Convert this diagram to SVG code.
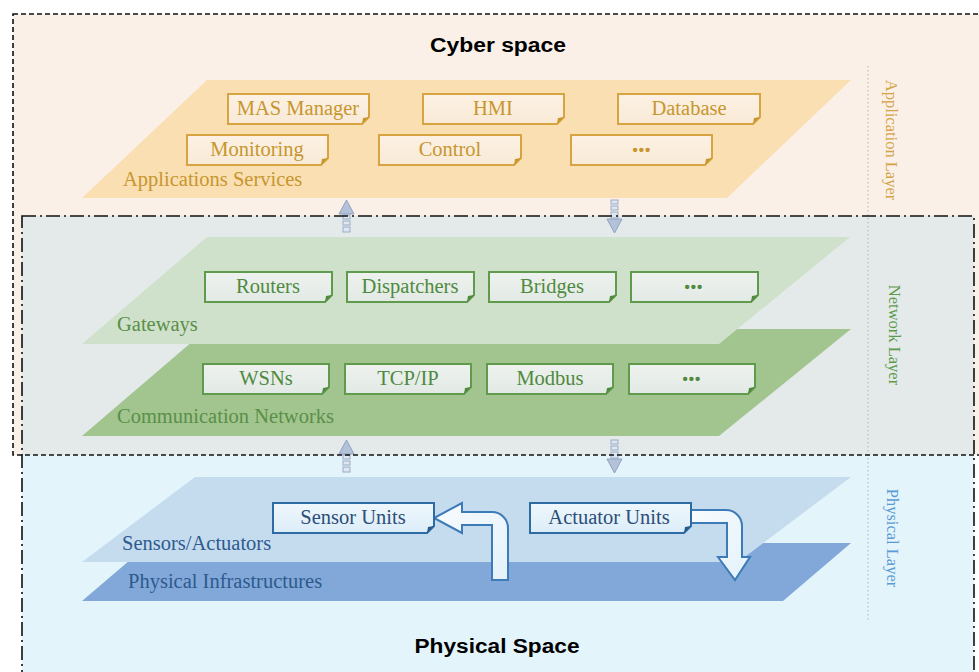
<svg xmlns="http://www.w3.org/2000/svg" width="979" height="672" viewBox="0 0 979 672">
  <defs>
    <style>
      .title { font-family: "Liberation Sans", Arial, sans-serif; font-weight: bold; font-size: 20px; fill: #000; text-anchor: middle; }
      .lbl { font-family: "Liberation Serif", "Times New Roman", serif; font-size: 20.5px; }
      .boxtxt { font-family: "Liberation Serif", "Times New Roman", serif; font-size: 20.5px; text-anchor: middle; }
      .dots { font-family: "Liberation Sans", Arial, sans-serif; font-size: 15px; font-weight: bold; text-anchor: middle; letter-spacing: 1px; }
      .side { font-family: "Liberation Serif", "Times New Roman", serif; font-size: 16.5px; text-anchor: middle; }
      .app polygon.b { fill: url(#gApp); stroke: #d6a440; stroke-width: 2; }
      .app .fold { fill: #c9962e; }
      .app text { fill: #c8962e; }
      .net polygon.b { fill: url(#gNet); stroke: #5f9a4d; stroke-width: 2; }
      .net .fold { fill: #4f8a3e; }
      .net text { fill: #4f8a3e; }
      .phy polygon.b { fill: url(#gPhy); stroke: #2f6ba3; stroke-width: 2; }
      .phy .fold { fill: #2a5a8c; }
      .phy text { fill: #2c4e78; }
      .flow { fill: url(#gArrow); stroke: #3d7ab8; stroke-width: 2; stroke-linejoin: miter; }
      .vhead { fill: #b3c2d8; stroke: #8fa3c1; stroke-width: 1; }
      .vstem { fill: #dfe6f0; stroke: #9aabc6; stroke-width: 1; }
    </style>
    <linearGradient id="gApp" x1="0" y1="0" x2="0" y2="1">
      <stop offset="0" stop-color="#fcf1e4"/>
      <stop offset="1" stop-color="#f9ead6"/>
    </linearGradient>
    <linearGradient id="gNet" x1="0" y1="0" x2="0" y2="1">
      <stop offset="0" stop-color="#eef2ef"/>
      <stop offset="1" stop-color="#e2e9e5"/>
    </linearGradient>
    <linearGradient id="gPhy" x1="0" y1="0" x2="0" y2="1">
      <stop offset="0" stop-color="#eef7fc"/>
      <stop offset="1" stop-color="#dcedf8"/>
    </linearGradient>
    <linearGradient id="gArrow" x1="0" y1="0" x2="1" y2="1">
      <stop offset="0" stop-color="#f7fbfe"/>
      <stop offset="1" stop-color="#e4f2fa"/>
    </linearGradient>
  </defs>

  <!-- background regions -->
  <rect x="0" y="0" width="979" height="672" fill="#ffffff"/>
  <rect x="13" y="14" width="980" height="441" fill="#fbf0e8"/>
  <rect x="22" y="216" width="952" height="239" fill="#e4eaea"/>
  <rect x="22" y="455" width="952" height="217" fill="#e3f4fb"/>

  <!-- dotted separator for the layer names -->
  <line x1="868" y1="66" x2="868" y2="620" stroke="#b5b5b5" stroke-width="1" stroke-dasharray="1.5 2.5"/>

  <!-- layer planes -->
  <g id="plane-application">
    <polygon points="207,80 851,80 727,198 82,198" fill="#f9dfb2"/>
    <text class="lbl" x="123" y="186" fill="#c8962e">Applications Services</text>
  </g>
  <g id="plane-communication">
    <polygon points="207,329 851,329 719,436 82,436" fill="#a2c590"/>
    <text class="lbl" x="117" y="423" fill="#5a8f48">Communication Networks</text>
  </g>
  <g id="plane-gateways">
    <polygon points="207,237 850,237 719,344 82,344" fill="#cfe1ca"/>
    <text class="lbl" x="117" y="331" fill="#5a8f48">Gateways</text>
  </g>
  <g id="plane-infrastructure">
    <polygon points="150,543 851,543 783,601 82,601" fill="#81a8d8"/>
  </g>
  <g id="plane-sensors">
    <polygon points="195,477 851,477 738,562 82,562" fill="#c5dcef"/>
    <text class="lbl" x="122" y="550" fill="#2e5a8e">Sensors/Actuators</text>
  </g>
  <text class="lbl" x="128" y="588" fill="#2e5a8e">Physical Infrastructures</text>

  <!-- application layer nodes -->
  <g class="app">
    <g id="mas-manager">
      <polygon class="b" points="228,94 369,94 369,117 362,124 228,124"/>
      <polygon class="fold" points="369,117 362,124 363,118"/>
      <text class="boxtxt" x="298" y="115">MAS Manager</text>
    </g>
    <g id="hmi">
      <polygon class="b" points="423,94 564,94 564,117 557,124 423,124"/>
      <polygon class="fold" points="564,117 557,124 558,118"/>
      <text class="boxtxt" x="493" y="115">HMI</text>
    </g>
    <g id="database">
      <polygon class="b" points="618,94 760,94 760,117 753,124 618,124"/>
      <polygon class="fold" points="760,117 753,124 754,118"/>
      <text class="boxtxt" x="689" y="115">Database</text>
    </g>
    <g id="monitoring">
      <polygon class="b" points="187,135 328,135 328,158 321,165 187,165"/>
      <polygon class="fold" points="328,158 321,165 322,159"/>
      <text class="boxtxt" x="257" y="156">Monitoring</text>
    </g>
    <g id="control">
      <polygon class="b" points="379,135 521,135 521,158 514,165 379,165"/>
      <polygon class="fold" points="521,158 514,165 515,159"/>
      <text class="boxtxt" x="450" y="156">Control</text>
    </g>
    <g id="app-more">
      <polygon class="b" points="571,135 712,135 712,158 705,165 571,165"/>
      <polygon class="fold" points="712,158 705,165 706,159"/>
      <text class="dots" x="642" y="155">•••</text>
    </g>
  </g>

  <!-- network layer nodes -->
  <g class="net">
    <g id="routers">
      <polygon class="b" points="205,272 332,272 332,295 325,302 205,302"/>
      <polygon class="fold" points="332,295 325,302 326,296"/>
      <text class="boxtxt" x="268" y="293">Routers</text>
    </g>
    <g id="dispatchers">
      <polygon class="b" points="347,272 474,272 474,295 467,302 347,302"/>
      <polygon class="fold" points="474,295 467,302 468,296"/>
      <text class="boxtxt" x="410" y="293">Dispatchers</text>
    </g>
    <g id="bridges">
      <polygon class="b" points="489,272 616,272 616,295 609,302 489,302"/>
      <polygon class="fold" points="616,295 609,302 610,296"/>
      <text class="boxtxt" x="552" y="293">Bridges</text>
    </g>
    <g id="gateway-more">
      <polygon class="b" points="631,272 758,272 758,295 751,302 631,302"/>
      <polygon class="fold" points="758,295 751,302 752,296"/>
      <text class="dots" x="694" y="292">•••</text>
    </g>
    <g id="wsns">
      <polygon class="b" points="203,364 329,364 329,387 322,394 203,394"/>
      <polygon class="fold" points="329,387 322,394 323,388"/>
      <text class="boxtxt" x="266" y="385">WSNs</text>
    </g>
    <g id="tcp-ip">
      <polygon class="b" points="345,364 471,364 471,387 464,394 345,394"/>
      <polygon class="fold" points="471,387 464,394 465,388"/>
      <text class="boxtxt" x="408" y="385">TCP/IP</text>
    </g>
    <g id="modbus">
      <polygon class="b" points="487,364 613,364 613,387 606,394 487,394"/>
      <polygon class="fold" points="613,387 606,394 607,388"/>
      <text class="boxtxt" x="550" y="385">Modbus</text>
    </g>
    <g id="network-more">
      <polygon class="b" points="629,364 755,364 755,387 748,394 629,394"/>
      <polygon class="fold" points="755,387 748,394 749,388"/>
      <text class="dots" x="692" y="384">•••</text>
    </g>
  </g>

  <!-- connectors -->
  <g id="connectors">
    <!-- application <-> network -->
    <rect class="vstem" x="343" y="215" width="7" height="4"/>
    <rect class="vstem" x="343" y="221" width="7" height="4"/>
    <rect class="vstem" x="343" y="227" width="7" height="5"/>
    <polygon class="vhead" points="346.5,200 354,214 339,214"/>
    <rect class="vstem" x="611" y="200" width="7" height="4"/>
    <rect class="vstem" x="611" y="206" width="7" height="4"/>
    <rect class="vstem" x="611" y="212" width="7" height="6"/>
    <polygon class="vhead" points="607,219 622,219 614.5,233"/>
    <!-- network <-> physical -->
    <rect class="vstem" x="343" y="455" width="7" height="4"/>
    <rect class="vstem" x="343" y="461" width="7" height="4"/>
    <rect class="vstem" x="343" y="467" width="7" height="5"/>
    <polygon class="vhead" points="346.5,440 354,454 339,454"/>
    <rect class="vstem" x="611" y="440" width="7" height="4"/>
    <rect class="vstem" x="611" y="446" width="7" height="4"/>
    <rect class="vstem" x="611" y="452" width="7" height="6"/>
    <polygon class="vhead" points="607,459 622,459 614.5,473"/>
    <!-- physical feedback arrows -->
    <path class="flow" d="M492,580 L492,525 L462,525 L462,533 L434,518 L462,503 L462,512 L492,512 A16,16 0 0 1 508,528 L508,580 Z"/>
    <path class="flow" d="M689,510 L726,510 A16,16 0 0 1 742,526 L742,557 L750,557 L735,580 L718,557 L727,557 L727,523 L689,523 Z"/>
  </g>

  <!-- physical layer nodes -->
  <g class="phy">
    <g id="sensor-units">
      <polygon class="b" points="273,503 434,503 434,526 427,533 273,533"/>
      <polygon class="fold" points="434,526 427,533 428,527"/>
      <text class="boxtxt" x="353" y="524">Sensor Units</text>
    </g>
    <g id="actuator-units">
      <polygon class="b" points="530,503 691,503 691,526 684,533 530,533"/>
      <polygon class="fold" points="691,526 684,533 685,527"/>
      <text class="boxtxt" x="609" y="524">Actuator Units</text>
    </g>
  </g>

  <!-- region borders -->
  <rect x="13" y="14" width="980" height="441" fill="none" stroke="#111" stroke-width="1.6" stroke-dasharray="5 3"/>
  <rect x="22" y="216" width="952" height="470" fill="none" stroke="#111" stroke-width="1.6" stroke-dasharray="14 4 2 4"/>

  <!-- region titles -->
  <text class="title" x="498" y="52" textLength="136" lengthAdjust="spacingAndGlyphs">Cyber space</text>
  <text class="title" x="497" y="653" textLength="165" lengthAdjust="spacingAndGlyphs">Physical Space</text>

  <!-- layer names -->
  <text class="side" transform="translate(886,140) rotate(90)" fill="#d4a446">Application Layer</text>
  <text class="side" transform="translate(889,335) rotate(90)" fill="#5e9a4d">Network Layer</text>
  <text class="side" transform="translate(887,538) rotate(90)" fill="#5b9bd5">Physical Layer</text>
</svg>
